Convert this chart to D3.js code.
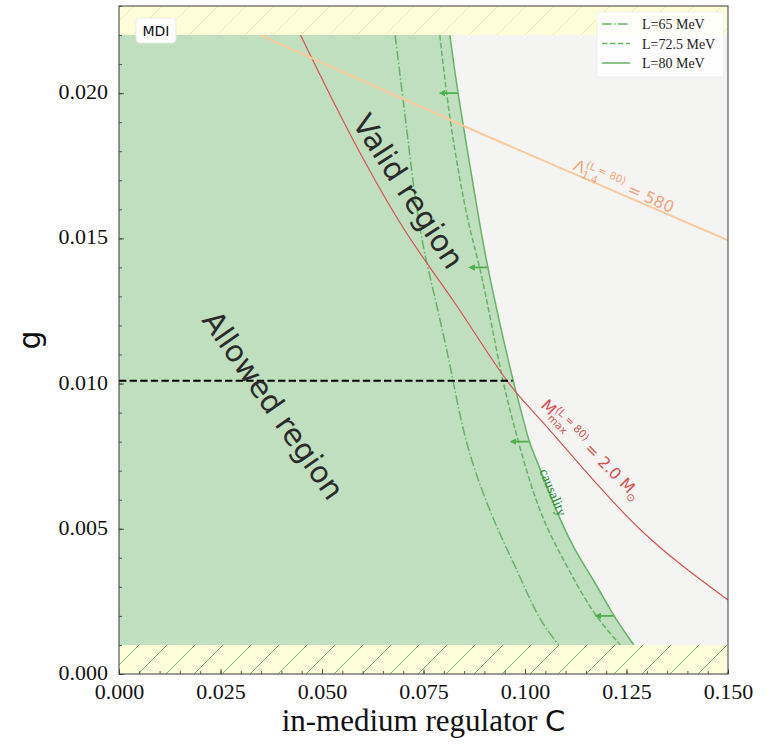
<!DOCTYPE html>
<html>
<head>
<meta charset="utf-8">
<script src="https://cdn.jsdelivr.net/npm/d3@7"></script>
<style>
  html, body { margin: 0; padding: 0; background: #ffffff; }
  svg { display: block; }
</style>
</head>
<body>
<div id="chart"></div>
<script>
// Causality limits (C, g) for three slope values L
const causalityL65  = [[0.0680,0.0220],[0.0710,0.01862],[0.0738,0.01528],[0.0780,0.01287],[0.0817,0.01057],[0.0841,0.00874],[0.0874,0.00702],[0.0932,0.00496],[0.0981,0.00358],[0.1031,0.00193],[0.1083,0.0010]];
const causalityL725 = [[0.0790,0.0220],[0.0817,0.01872],[0.0862,0.01528],[0.0891,0.01402],[0.0940,0.01035],[0.0969,0.00874],[0.1014,0.00645],[0.1055,0.00496],[0.1104,0.00369],[0.1166,0.00209],[0.1235,0.0010]];
const causalityL80  = [[0.0815,0.0220],[0.0834,0.0200],[0.0891,0.01528],[0.0907,0.01402],[0.0969,0.01012],[0.0997,0.00874],[0.1009,0.00799],[0.1039,0.00702],[0.1076,0.00564],[0.1121,0.00427],[0.1170,0.00323],[0.1219,0.00197],[0.1268,0.0010]];
// M_max = 2.0 Msun contour (L = 80)
const mmaxL80 = [[0.0447,0.0220],[0.0577,0.01838],[0.0693,0.01552],[0.0829,0.01274],[0.0977,0.00971],[0.1039,0.00874],[0.1285,0.00496],[0.1500,0.00255]];
// Tidal deformability Lambda_1.4 = 580 contour (L = 80)
const lambdaL80 = [[0.0348,0.0220],[0.0891,0.01861],[0.1500,0.01493]];
// Chosen coupling and excluded g bands
const gChosen = 0.0101;
const gBandLow = [0, 0.001];
const gBandHigh = [0.022, 0.023];
// Arrow positions along the causality boundary
const arrowG = [0.020, 0.014, 0.008, 0.002];
// Axis ticks
const xTicks = [0, 0.025, 0.05, 0.075, 0.1, 0.125, 0.15];
const xMinorTicks = d3.range(0, 0.1501, 0.005);
const yTicks = [0, 0.005, 0.01, 0.015, 0.02];
const yMinorTicks = d3.range(0, 0.0231, 0.001);
const legendLabels = ["L=65 MeV", "L=72.5 MeV", "L=80 MeV"];

const W = 771, H = 745;
const M = {left: 119, right: 43, top: 6, bottom: 71};
const x = d3.scaleLinear([0, 0.15], [M.left, W - M.right]);
const y = d3.scaleLinear([0, 0.023], [H - M.bottom, M.top]);

const green = "#66b366";
const fillGreen = "#bfdfbf";
const grey = "#f4f4f3";
const red = "#d65353";
const orange = "#f9c99c";
const serif = "'Liberation Serif', 'Times New Roman', serif";
const sans = "'DejaVu Sans', sans-serif";

const svg = d3.select("#chart").append("svg").attr("width", W).attr("height", H);
const defs = svg.append("defs");

defs.append("clipPath").attr("id", "plot-clip").append("rect")
  .attr("x", x(0)).attr("y", y(0.023)).attr("width", x(0.15) - x(0)).attr("height", y(0) - y(0.023));

function hatch(id, color) {
  const p = defs.append("pattern").attr("id", id).attr("patternUnits", "userSpaceOnUse")
    .attr("width", 28).attr("height", 28);
  p.append("rect").attr("width", 28).attr("height", 28).attr("fill", "#fdfdda");
  p.append("path").attr("d", "M0,28L28,0M-7,7L7,-7M21,35L35,21")
    .attr("stroke", color).attr("stroke-width", 1);
}
hatch("hatch-low", "#7ab67a");
hatch("hatch-high", "#f1eab0");

const blur = defs.append("filter").attr("id", "soft").attr("x", "-5%").attr("y", "-200%").attr("width", "110%").attr("height", "500%");
blur.append("feGaussianBlur").attr("stdDeviation", 2.5);

defs.append("marker").attr("id", "head").attr("viewBox", "0 0 10 10")
  .attr("refX", 7).attr("refY", 5).attr("markerWidth", 3.6).attr("markerHeight", 3.6)
  .attr("orient", "auto")
  .append("path").attr("d", "M0,0L10,5L0,10Z").attr("fill", "#4fae4f");

const plot = svg.append("g").attr("clip-path", "url(#plot-clip)");

// region outside the causal domain
plot.append("rect").attr("x", x(0)).attr("width", x(0.15) - x(0))
  .attr("y", y(gBandHigh[0])).attr("height", y(gBandLow[1]) - y(gBandHigh[0]))
  .attr("fill", grey);

// allowed (causal) region
const area = d3.area().y(d => y(d[1])).x0(x(0)).x1(d => x(d[0])).curve(d3.curveBasis);
plot.append("path").datum(causalityL80).attr("d", area).attr("fill", fillGreen);

// shadowed horizontal line at the chosen g
function cAtG(curve, g) {
  for (let i = 0; i < curve.length - 1; i++) {
    const [c0, g0] = curve[i], [c1, g1] = curve[i + 1];
    if ((g - g0) * (g - g1) <= 0) return c0 + (c1 - c0) * (g - g0) / (g1 - g0);
  }
  return curve[curve.length - 1][0];
}
const cChosen = cAtG(causalityL80, gChosen);
plot.append("line").attr("x1", x(0)).attr("x2", x(cChosen))
  .attr("y1", y(gChosen) + 5).attr("y2", y(gChosen) + 5)
  .attr("stroke", "#000").attr("stroke-opacity", 0.17).attr("stroke-width", 7)
  .attr("filter", "url(#soft)");

// causality boundaries
const lineY = d3.line().x(d => x(d[0])).y(d => y(d[1])).curve(d3.curveBasis);
plot.append("path").datum(causalityL65).attr("d", lineY).attr("fill", "none")
  .attr("stroke", green).attr("stroke-width", 1.5).attr("stroke-dasharray", "9.6,2.4,1.5,2.4");
plot.append("path").datum(causalityL725).attr("d", lineY).attr("fill", "none")
  .attr("stroke", green).attr("stroke-width", 1.5).attr("stroke-dasharray", "5.5,2.4");
plot.append("path").datum(causalityL80).attr("d", lineY).attr("fill", "none")
  .attr("stroke", green).attr("stroke-width", 1.5);

// arrows pointing into the causal side
plot.selectAll(".arrow").data(arrowG).join("line").attr("class", "arrow")
  .attr("x1", g => x(cAtG(causalityL80, g)))
  .attr("x2", g => x(cAtG(causalityL80, g) - 0.0042))
  .attr("y1", g => y(g)).attr("y2", g => y(g))
  .attr("stroke", "#4fae4f").attr("stroke-width", 1.8).attr("marker-end", "url(#head)");

// M_max and Lambda contours
const lineX = d3.line().x(d => x(d[0])).y(d => y(d[1])).curve(d3.curveMonotoneX);
plot.append("path").datum(mmaxL80).attr("d", lineX).attr("fill", "none")
  .attr("stroke", red).attr("stroke-width", 1.2);
plot.append("path").datum(lambdaL80).attr("d", lineX).attr("fill", "none")
  .attr("stroke", orange).attr("stroke-width", 2);

// chosen g
plot.append("line").attr("x1", x(0)).attr("x2", x(cChosen))
  .attr("y1", y(gChosen)).attr("y2", y(gChosen))
  .attr("stroke", "#000").attr("stroke-width", 2).attr("stroke-dasharray", "7.4,3.2");

// excluded g bands
plot.append("rect").attr("x", x(0)).attr("width", x(0.15) - x(0))
  .attr("y", y(gBandLow[1])).attr("height", y(gBandLow[0]) - y(gBandLow[1]))
  .attr("fill", "url(#hatch-low)");
plot.append("rect").attr("x", x(0)).attr("width", x(0.15) - x(0))
  .attr("y", y(gBandHigh[1])).attr("height", y(gBandHigh[0]) - y(gBandHigh[1]))
  .attr("fill", "url(#hatch-high)");

// region labels
function rotLabel(c, g, angle, text, size, color, family) {
  svg.append("text").attr("transform", `translate(${x(c)},${y(g)}) rotate(${angle})`)
    .attr("text-anchor", "middle").attr("dominant-baseline", "central")
    .attr("font-family", family).attr("font-size", size).attr("fill", color).text(text);
}
rotLabel(0.0713, 0.01662, 57, "Valid region", 30, "#2b2b2b", sans);
rotLabel(0.0380, 0.00926, 55, "Allowed region", 30, "#2b2b2b", sans);
rotLabel(0.1069, 0.00625, 67, "causality", 14, "#238b34", serif);

// label with stacked super/subscripts, centred on (c, g)
function mathLabel(c, g, angle, pieces, color) {
  const grp = svg.append("g").attr("transform", `translate(${x(c)},${y(g)}) rotate(${angle})`);
  const inner = grp.append("g");
  let cx = 0;
  pieces.forEach(p => {
    let w = 0;
    p.forEach(q => {
      const t = inner.append("text").attr("x", cx).attr("y", q.dy || 0)
        .attr("font-family", sans).attr("font-size", q.size).attr("fill", color)
        .style("white-space", "pre").text(q.text);
      w = Math.max(w, t.node().getComputedTextLength());
    });
    cx += w;
  });
  inner.attr("transform", `translate(${-cx / 2},5)`);
}
mathLabel(0.1162, 0.00772, 45, [
  [{text: "M", size: 16}],
  [{text: "(L = 80)", size: 10.5, dy: -7}, {text: "max", size: 10.5, dy: 4}],
  [{text: " = 2.0 M", size: 16}],
  [{text: "⊙", size: 10.5, dy: 4}]
], red);
mathLabel(0.1243, 0.01678, 24, [
  [{text: "Λ", size: 16}],
  [{text: "(L = 80)", size: 10.5, dy: -7}, {text: "1.4", size: 10.5, dy: 4}],
  [{text: " = 580", size: 16}]
], "#f4a57e");

// axes
const fmt = d3.format(".3f");
const xAxis = svg.append("g").attr("transform", `translate(0,${y(0)})`)
  .call(d3.axisBottom(x).tickValues(xTicks).tickFormat(fmt).tickSize(-5).tickPadding(9));
svg.append("g").attr("transform", `translate(0,${y(0)})`)
  .call(d3.axisBottom(x).tickValues(xMinorTicks).tickFormat("").tickSize(-3))
  .call(g => g.select(".domain").remove());
const yAxis = svg.append("g").attr("transform", `translate(${x(0)},0)`)
  .call(d3.axisLeft(y).tickValues(yTicks).tickFormat(fmt).tickSize(-5).tickPadding(11));
svg.append("g").attr("transform", `translate(${x(0)},0)`)
  .call(d3.axisLeft(y).tickValues(yMinorTicks).tickFormat("").tickSize(-3))
  .call(g => g.select(".domain").remove());
[xAxis, yAxis].forEach(a => {
  a.select(".domain").remove();
  a.selectAll("text").attr("font-family", serif).attr("font-size", 22).attr("fill", "#111");
});
yAxis.selectAll("text").attr("dy", "0.25em");
svg.selectAll(".tick line").attr("stroke", "#333").attr("stroke-width", 0.8);

// frame
svg.append("rect").attr("x", x(0)).attr("y", y(0.023))
  .attr("width", x(0.15) - x(0)).attr("height", y(0) - y(0.023))
  .attr("fill", "none").attr("stroke", "#3a3a3a").attr("stroke-width", 1);

// axis titles
const xt = svg.append("text").attr("x", (x(0) + x(0.15)) / 2).attr("y", 731)
  .attr("text-anchor", "middle").attr("fill", "#111");
xt.append("tspan").attr("font-family", serif).attr("font-size", 31).text("in-medium regulator ");
xt.append("tspan").attr("font-family", sans).attr("font-size", 29).text("C");
svg.append("text").attr("transform", `translate(40,${(y(0) + y(0.023)) / 2}) rotate(-90)`)
  .attr("text-anchor", "middle").attr("font-family", sans).attr("font-size", 30)
  .attr("fill", "#111").text("g");

// MDI tag
svg.append("rect").attr("x", 136).attr("y", 18).attr("width", 40).attr("height", 25)
  .attr("rx", 4).attr("fill", "#fff").attr("stroke", "#e6e6e6").attr("stroke-width", 0.8);
svg.append("text").attr("x", 156).attr("y", 35.5).attr("text-anchor", "middle")
  .attr("font-family", sans).attr("font-size", 14).attr("fill", "#111").text("MDI");

// legend
const leg = svg.append("g").attr("transform", "translate(597,12)");
leg.append("rect").attr("width", 127).attr("height", 65).attr("rx", 3)
  .attr("fill", "#fff").attr("fill-opacity", 0.85).attr("stroke", "#eeeeee").attr("stroke-width", 0.8);
const dashes = ["9.6,2.4,1.5,2.4", "5.5,2.4", null];
legendLabels.forEach((lab, i) => {
  const yy = 12 + i * 19.5;
  leg.append("line").attr("x1", 5).attr("x2", 33).attr("y1", yy).attr("y2", yy)
    .attr("stroke", green).attr("stroke-width", 1.5).attr("stroke-dasharray", dashes[i]);
  leg.append("text").attr("x", 45).attr("y", yy + 5)
    .attr("font-family", serif).attr("font-size", 14).attr("fill", "#222").text(lab);
});
</script>
</body>
</html>
